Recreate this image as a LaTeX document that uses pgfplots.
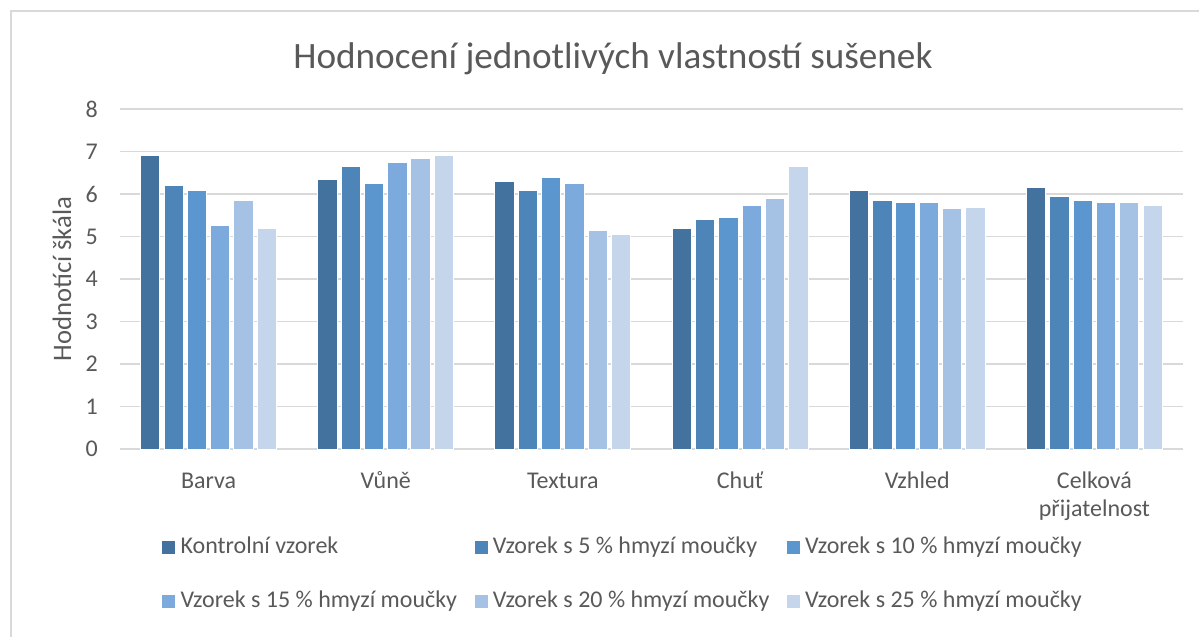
\documentclass[border=0pt]{standalone}
\usepackage{pgfplots}
\pgfplotsset{compat=1.18}
\usepackage{pgfplotstable}
\usepackage{fontspec}
\setmainfont{Carlito}
\definecolor{txt}{HTML}{595959}
\definecolor{grid}{HTML}{D9D9D9}
\definecolor{c1}{HTML}{43729F}
\definecolor{c2}{HTML}{4E85B8}
\definecolor{c3}{HTML}{5B96CE}
\definecolor{c4}{HTML}{7CAADC}
\definecolor{c5}{HTML}{A5C1E4}
\definecolor{c6}{HTML}{C5D5EB}
\pgfplotstableread{
x k s5 s10 s15 s20 s25
0 6.90 6.20 6.09 5.25 5.84 5.20
1 6.35 6.65 6.24 6.75 6.84 6.90
2 6.30 6.09 6.39 6.24 5.15 5.05
3 5.20 5.40 5.44 5.74 5.89 6.64
4 6.09 5.85 5.79 5.79 5.65 5.69
5 6.15 5.94 5.85 5.79 5.79 5.73
}\data
\begin{document}
\begin{tikzpicture}
\path[use as bounding box] (-90pt,-141pt) rectangle (809.25pt,336.75pt);
\draw[grid, line width=1.1pt] (-81.75pt,-141pt) -- (-81.75pt,328.5pt) -- (809.25pt,328.5pt);
\node[anchor=base, text=txt, font=\fontsize{27.9}{32}\selectfont] at (369.75pt,285.75pt) {Hodnocení jednotlivých vlastností sušenek};
\begin{axis}[
  scale only axis, width=797.25pt, height=255pt,
  xmin=-0.5, xmax=5.5, ymin=0, ymax=8,
  ytick={0,1,...,8},
  xtick={0,1,2,3,4,5},
  xticklabels={Barva, Vůně, Textura, Chuť, Vzhled, {\begin{tabular}[t]{@{}c@{}}Celková\\přijatelnost\end{tabular}}},
  axis line style={draw=none},
  axis x line*=bottom,
  x axis line style={draw=grid, line width=1.1pt},
  ymajorgrids, grid style={draw=grid, line width=1.1pt},
  major tick length=0pt, tick style={draw=none},
  /pgf/number format/assume math mode=true,
  tick label style={text=txt, font=\fontsize{18}{21}\selectfont},
  yticklabel style={anchor=east, inner sep=0pt, xshift=-16.5pt},
  xticklabel style={anchor=base, inner sep=0pt, yshift=-29.25pt},
  ylabel={Hodnotící škála},
  every axis y label/.style={at={(axis description cs:-0.0546,0.5)}, rotate=90, anchor=center, text=txt, font=\fontsize{20}{24}\selectfont},
  ybar, bar width=0.109,
  legend columns=3,
  legend style={draw=none, fill=none, at={(axis description cs:0.0357,-0.25)}, anchor=north west,
    font=\fontsize{18}{21}\selectfont, text=txt,
    nodes={inner sep=0pt, anchor=base west},
    /tikz/every odd column/.style={column sep=4pt},
    /tikz/every even column/.style={column sep=13.1pt},
    row sep=26.5pt},
  legend image code/.code={\fill[#1, draw=none] (0pt,-0.5pt) rectangle (9.75pt,9.25pt);},
]
\addplot[fill=c1, draw=white, line width=0.75pt, bar shift=-0.329] table[x=x, y=k] {\data};
\addplot[fill=c2, draw=white, line width=0.75pt, bar shift=-0.197] table[x=x, y=s5] {\data};
\addplot[fill=c3, draw=white, line width=0.75pt, bar shift=-0.066] table[x=x, y=s10] {\data};
\addplot[fill=c4, draw=white, line width=0.75pt, bar shift=0.066] table[x=x, y=s15] {\data};
\addplot[fill=c5, draw=white, line width=0.75pt, bar shift=0.197] table[x=x, y=s20] {\data};
\addplot[fill=c6, draw=white, line width=0.75pt, bar shift=0.329] table[x=x, y=s25] {\data};
\legend{Kontrolní vzorek, Vzorek s 5 \% hmyzí moučky, Vzorek s 10 \% hmyzí moučky, Vzorek s 15 \% hmyzí moučky, Vzorek s 20 \% hmyzí moučky, Vzorek s 25 \% hmyzí moučky}
\end{axis}
\end{tikzpicture}
\end{document}
